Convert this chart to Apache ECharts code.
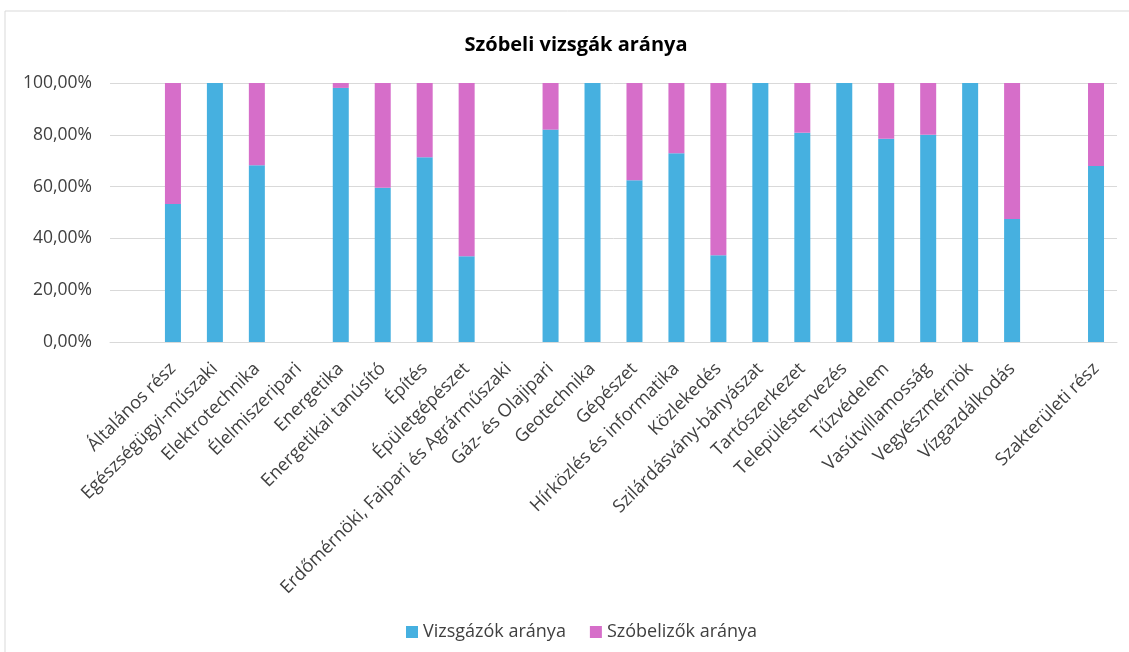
<!DOCTYPE html>
<html>
<head>
<meta charset="utf-8">
<script src="https://cdn.jsdelivr.net/npm/echarts@6/dist/echarts.min.js"></script>
<style>
  html, body { margin: 0; padding: 0; background: #fff; }
  #chart { width: 1129px; height: 652px; }
</style>
</head>
<body>
<div id="chart"></div>
<script>
// kategóriák (az első és a Vízgazdálkodás utáni oszlop üres)
var categories = ['', 'Általános rész', 'Egészségügyi-műszaki', 'Elektrotechnika', 'Élelmiszeripari',
  'Energetika', 'Energetikai tanúsító', 'Építés', 'Épületgépészet',
  'Erdőmérnöki, Faipari és Agrárműszaki', 'Gáz- és Olajipari', 'Geotechnika', 'Gépészet',
  'Hírközlés és informatika', 'Közlekedés', 'Szilárdásvány-bányászat', 'Tartószerkezet',
  'Településtervezés', 'Tűzvédelem', 'Vasútvillamosság', 'Vegyészmérnök', 'Vízgazdálkodás',
  '', 'Szakterületi rész'];

// vizsgázók aránya (%)
var vizsgazok = [null, 53.3, 100, 68.2, null, 98.1, 59.6, 71.3, 33.1, null, 82.0, 100, 62.5,
  72.9, 33.5, 100, 80.8, 100, 78.5, 80.0, 100, 47.5, null, 68.0];
// szóbelizők aránya (%)
var szobelizok = [null, 46.7, 0, 31.8, null, 1.9, 40.4, 28.7, 66.9, null, 18.0, 0, 37.5,
  27.1, 66.5, 0, 19.2, 0, 21.5, 20.0, 0, 52.5, null, 32.0];

var yTicks = [0, 20, 40, 60, 80, 100];

var txt = '#404040', grid = '#d9d9d9';
var font = '"Open Sans", "Noto Sans", sans-serif';

var chart = echarts.init(document.getElementById('chart'));
var option = {
  animation: false,
  textStyle: { fontFamily: font },
  graphic: [{
    type: 'rect',
    shape: { x: 5, y: 11, width: 1140, height: 660 },
    style: { fill: 'none', stroke: grid, lineWidth: 1 },
    silent: true
  }],
  title: {
    text: 'Szóbeli vizsgák aránya',
    left: 571, top: 30, textAlign: 'center',
    textStyle: { fontFamily: font, fontSize: 20, fontWeight: 'bold', color: '#000' }
  },
  legend: {
    left: 401, top: 618,
    itemWidth: 12, itemHeight: 12, itemGap: 24,
    icon: 'rect',
    textStyle: { fontFamily: font, fontSize: 18, color: txt },
    data: ['Vizsgázók aránya', 'Szóbelizők aránya']
  },
  grid: { left: 110, right: 12, top: 83, bottom: 310, containLabel: false },
  xAxis: {
    type: 'category',
    data: categories,
    axisLine: { show: true, lineStyle: { color: grid, width: 1 } },
    axisTick: { show: false },
    axisLabel: {
      interval: 0, rotate: 45, margin: 24,
      fontFamily: font, fontSize: 18, color: txt
    }
  },
  yAxis: {
    type: 'value',
    min: yTicks[0], max: yTicks[yTicks.length - 1], interval: 20,
    axisLine: { show: false },
    axisTick: { show: false },
    splitLine: { lineStyle: { color: grid, width: 1 } },
    axisLabel: {
      margin: 18, fontFamily: font, fontSize: 17.5, color: txt,
      formatter: function (v) { return v.toFixed(2).replace('.', ',') + '%'; }
    }
  },
  series: [
    {
      name: 'Vizsgázók aránya', type: 'bar', stack: 'arany',
      barWidth: 16,
      data: vizsgazok,
      itemStyle: { color: '#46b0e0' }
    },
    {
      name: 'Szóbelizők aránya', type: 'bar', stack: 'arany',
      barWidth: 16,
      data: szobelizok,
      itemStyle: { color: '#d66ec9' }
    }
  ]
};
chart.setOption(option);
</script>
</body>
</html>
